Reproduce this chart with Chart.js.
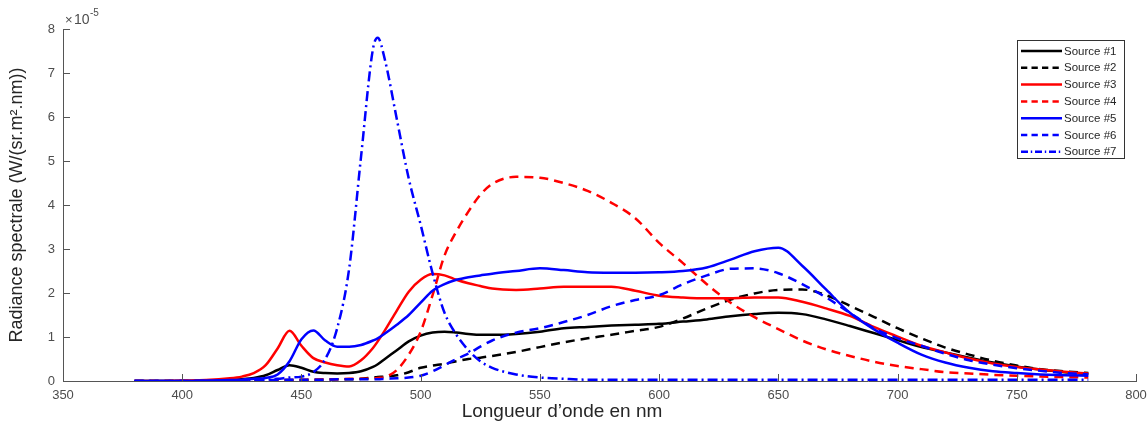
<!DOCTYPE html>
<html lang="fr">
<head>
    <meta charset="UTF-8">
    <title>Radiance spectrale</title>
    <script src="https://cdn.jsdelivr.net/npm/chart.js"></script>
    <style>
        body { margin: 0; background: #fff; }
        canvas { display: block; }
    </style>
</head>
<body>
    <canvas id="spectre" width="1147" height="423"></canvas>

    <script>
        // longueurs d'onde (nm)
        const wavelengths = [380, 390, 400, 410, 420, 425, 430, 435, 440, 445, 450, 455, 460, 465, 470, 475, 480, 482, 485, 490,
            495, 500, 505, 510, 515, 520, 525, 530, 540, 550, 560, 570, 580, 590, 600, 610, 620, 630, 640, 650,
            660, 670, 680, 690, 700, 710, 720, 730, 740, 750, 760, 770, 780];

        // radiances en unités de 1e-5 W/(sr.m².nm)
        const source1 = [0, 0, 0, 0.01, 0.02, 0.04, 0.07, 0.13, 0.25, 0.36, 0.3, 0.21, 0.18, 0.17, 0.18, 0.22, 0.32, 0.38, 0.5, 0.7,
            0.9, 1.03, 1.1, 1.12, 1.1, 1.07, 1.05, 1.05, 1.07, 1.12, 1.2, 1.23, 1.26, 1.28, 1.3, 1.35, 1.4, 1.47, 1.52, 1.55,
            1.52, 1.4, 1.25, 1.09, 0.93, 0.77, 0.65, 0.53, 0.42, 0.33, 0.26, 0.2, 0.16];
        const source2 = [0, 0, 0, 0, 0, 0, 0, 0.01, 0.01, 0.02, 0.02, 0.03, 0.03, 0.04, 0.04, 0.05, 0.08, 0.09, 0.1, 0.13,
            0.2, 0.3, 0.35, 0.39, 0.45, 0.5, 0.53, 0.57, 0.66, 0.77, 0.88, 0.97, 1.05, 1.14, 1.23, 1.42, 1.65, 1.85, 1.99, 2.07,
            2.08, 1.95, 1.71, 1.46, 1.2, 0.97, 0.76, 0.6, 0.46, 0.35, 0.27, 0.22, 0.18];
        const source3 = [0, 0, 0.01, 0.02, 0.06, 0.1, 0.18, 0.36, 0.74, 1.14, 0.8, 0.52, 0.42, 0.36, 0.33, 0.47, 0.75, 0.9, 1.15, 1.6,
            2.03, 2.3, 2.43, 2.4, 2.3, 2.22, 2.16, 2.1, 2.07, 2.1, 2.14, 2.14, 2.14, 2.05, 1.94, 1.9, 1.88, 1.88, 1.9, 1.9,
            1.8, 1.65, 1.48, 1.23, 1.01, 0.8, 0.65, 0.51, 0.4, 0.32, 0.26, 0.21, 0.17];
        const source4 = [0, 0, 0, 0, 0, 0, 0.01, 0.01, 0.02, 0.02, 0.03, 0.03, 0.04, 0.04, 0.05, 0.05, 0.06, 0.07, 0.09, 0.25,
            0.6, 1.12, 1.95, 2.85, 3.4, 3.85, 4.23, 4.48, 4.64, 4.62, 4.5, 4.32, 4.05, 3.7, 3.14, 2.68, 2.2, 1.78, 1.45, 1.18,
            0.92, 0.72, 0.57, 0.44, 0.34, 0.27, 0.2, 0.17, 0.14, 0.12, 0.1, 0.09, 0.08];
        const source5 = [0, 0, 0, 0.01, 0.02, 0.03, 0.05, 0.07, 0.15, 0.45, 0.95, 1.15, 0.92, 0.78, 0.78, 0.82, 0.92, 0.97, 1.08, 1.28,
            1.5, 1.78, 2.05, 2.2, 2.3, 2.36, 2.4, 2.44, 2.5, 2.56, 2.52, 2.47, 2.46, 2.46, 2.47, 2.5, 2.58, 2.76, 2.95, 3.03,
            2.62, 2.08, 1.55, 1.18, 0.87, 0.6, 0.42, 0.3, 0.22, 0.18, 0.15, 0.13, 0.12];
        const source6 = [0, 0, 0, 0, 0, 0.01, 0.01, 0.02, 0.02, 0.03, 0.03, 0.03, 0.03, 0.04, 0.04, 0.04, 0.04, 0.04, 0.05, 0.06,
            0.08, 0.12, 0.22, 0.36, 0.5, 0.62, 0.78, 0.92, 1.1, 1.2, 1.34, 1.5, 1.7, 1.84, 1.95, 2.2, 2.4, 2.55, 2.56, 2.45,
            2.2, 1.9, 1.55, 1.2, 0.97, 0.8, 0.62, 0.47, 0.37, 0.29, 0.23, 0.18, 0.15];
        const source7 = [0, 0, 0, 0, 0.01, 0.01, 0.02, 0.03, 0.05, 0.08, 0.1, 0.2, 0.5, 1.2, 2.55, 5.1, 7.55, 7.8, 7.3, 5.95,
            4.6, 3.55, 2.45, 1.55, 1.05, 0.7, 0.45, 0.3, 0.15, 0.08, 0.05, 0.03, 0.03, 0.03, 0.03, 0.03, 0.03, 0.03, 0.03, 0.03,
            0.03, 0.03, 0.03, 0.03, 0.03, 0.03, 0.03, 0.03, 0.03, 0.03, 0.03, 0.03, 0.03];

        const sourceNames = ["Source #1", "Source #2", "Source #3", "Source #4", "Source #5", "Source #6", "Source #7"];
        const xTicks = [350, 400, 450, 500, 550, 600, 650, 700, 750, 800];
        const yTicks = [0, 1, 2, 3, 4, 5, 6, 7, 8];

        const DASH = [9, 6];
        const DASHDOT = [10, 4, 2, 4];
        const styles = [
            { color: "#000000", dash: [] },
            { color: "#000000", dash: DASH },
            { color: "#ff0000", dash: [] },
            { color: "#ff0000", dash: DASH },
            { color: "#0000ff", dash: [] },
            { color: "#0000ff", dash: DASH },
            { color: "#0000ff", dash: DASHDOT }
        ];

        const allSeries = [source1, source2, source3, source4, source5, source6, source7];
        const datasets = allSeries.map((vals, i) => ({
            label: sourceNames[i],
            data: vals.map((v, k) => ({ x: wavelengths[k], y: v })),
            borderColor: styles[i].color,
            borderDash: styles[i].dash,
            borderWidth: 2.5,
            pointRadius: 0,
            fill: false,
            cubicInterpolationMode: "monotone",
            order: allSeries.length - i   // la dernière courbe par-dessus, comme matlab
        }));

        const FONT = "'Liberation Sans', Arial, Helvetica, sans-serif";
        const AXIS_GREY = "#555555";
        const TEXT_GREY = "#4d4d4d";

        // ticks intérieurs, titres, x10^-5 et légende encadrée
        const matlabDecor = {
            id: "matlabDecor",
            afterDraw(chart) {
                const ctx = chart.ctx;
                const xs = chart.scales.x, ys = chart.scales.y;
                const area = chart.chartArea;
                ctx.save();
                ctx.strokeStyle = AXIS_GREY;
                ctx.lineWidth = 1;
                ctx.beginPath();
                xTicks.forEach(t => {
                    const px = Math.round(xs.getPixelForValue(t)) + 0.5;
                    ctx.moveTo(px, area.bottom);
                    ctx.lineTo(px, area.bottom - 7);
                });
                yTicks.forEach(t => {
                    const py = Math.round(ys.getPixelForValue(t)) + 0.5;
                    ctx.moveTo(area.left, py);
                    ctx.lineTo(area.left + 7, py);
                });
                ctx.stroke();

                // facteur d'échelle
                ctx.fillStyle = TEXT_GREY;
                ctx.textBaseline = "alphabetic";
                ctx.textAlign = "left";
                ctx.font = "13px " + FONT;
                ctx.fillText("\u00d7", area.left + 2, 24);
                ctx.font = "14px " + FONT;
                ctx.fillText("10", area.left + 11, 24);
                ctx.font = "10px " + FONT;
                ctx.fillText("-5", area.left + 27, 16);

                // titres des axes
                ctx.fillStyle = "#262626";
                ctx.textAlign = "center";
                ctx.textBaseline = "middle";
                ctx.font = "19px " + FONT;
                ctx.fillText("Longueur d\u2019onde en nm", 562, 412);
                ctx.save();
                ctx.font = "18px " + FONT;
                ctx.translate(17, (area.top + area.bottom) / 2);
                ctx.rotate(-Math.PI / 2);
                ctx.fillText("Radiance spectrale (W/(sr.m\u00b2.nm))", 0, 0);
                ctx.restore();

                // légende
                const lx = 1017, ly = 40, lw = 107, lh = 118;
                ctx.fillStyle = "#ffffff";
                ctx.fillRect(lx, ly, lw, lh);
                ctx.strokeStyle = "#333333";
                ctx.lineWidth = 1;
                ctx.strokeRect(lx + 0.5, ly + 0.5, lw, lh);
                ctx.font = "11.5px " + FONT;
                ctx.textAlign = "left";
                ctx.textBaseline = "middle";
                chart.data.datasets.forEach((ds, i) => {
                    const yy = ly + 11 + i * 16.8;
                    ctx.strokeStyle = ds.borderColor;
                    ctx.lineWidth = 2.5;
                    ctx.setLineDash(ds.borderDash.length ? ds.borderDash.map(d => d * 0.7) : []);
                    ctx.beginPath();
                    ctx.moveTo(lx + 4, yy);
                    ctx.lineTo(lx + 45, yy);
                    ctx.stroke();
                    ctx.setLineDash([]);
                    ctx.fillStyle = "#262626";
                    ctx.fillText(ds.label, lx + 47, yy + 0.5);
                });
                ctx.restore();
            }
        };

        new Chart(document.getElementById("spectre"), {
            type: "line",
            data: { datasets: datasets },
            options: {
                responsive: false,
                animation: false,
                layout: { padding: { left: 0, right: 0, top: 29, bottom: 0 } },
                plugins: { legend: { display: false }, tooltip: { enabled: false } },
                scales: {
                    x: {
                        type: "linear",
                        min: 350,
                        max: 800,
                        afterBuildTicks: s => { s.ticks = xTicks.map(v => ({ value: v })); },
                        afterFit: s => { s.height = 42; s.paddingRight = 11; },
                        grid: { display: false, drawTicks: false },
                        border: { display: true, color: AXIS_GREY, width: 1 },
                        ticks: { color: TEXT_GREY, font: { family: FONT, size: 13 }, padding: 7, maxRotation: 0 }
                    },
                    y: {
                        min: 0,
                        max: 8,
                        afterBuildTicks: s => { s.ticks = yTicks.map(v => ({ value: v })); },
                        afterFit: s => { s.width = 63; },
                        grid: { display: false, drawTicks: false },
                        border: { display: true, color: AXIS_GREY, width: 1 },
                        ticks: { color: TEXT_GREY, font: { family: FONT, size: 13 }, padding: 8 }
                    }
                }
            },
            plugins: [matlabDecor]
        });
    </script>
</body>
</html>
